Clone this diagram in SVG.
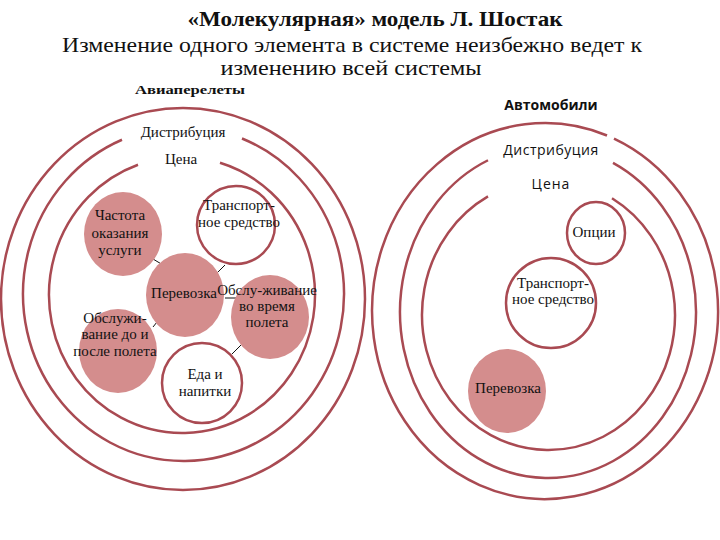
<svg xmlns="http://www.w3.org/2000/svg" width="720" height="540" viewBox="0 0 720 540">
<style>
.ring{fill:none;stroke:#a94a52;stroke-width:2.5}
.nodeO{fill:#ffffff;stroke:#a94a52;stroke-width:2.5}
.nodeF{fill:#d48d8d;stroke:none}
.conn{stroke:#111;stroke-width:1;fill:none}
.t{font-family:"Liberation Serif","Times New Roman",serif;font-size:15px;fill:#111;text-anchor:middle}
.s{font-family:"Open Sans","DejaVu Sans",sans-serif;font-size:14px;fill:#111;text-anchor:middle}
.h{font-family:"Liberation Serif","Times New Roman",serif;fill:#111;text-anchor:middle}
</style>
<rect width="720" height="540" fill="#fff"/>
<g id="title">
<text class="h" x="375" y="26" font-size="21" font-weight="bold" textLength="375" lengthAdjust="spacingAndGlyphs">«Молекулярная» модель Л. Шостак</text>
<text class="h" x="352" y="52" font-size="22" textLength="580" lengthAdjust="spacingAndGlyphs">Изменение одного элемента в системе неизбежно ведет к</text>
<text class="h" x="351" y="75" font-size="22" textLength="261" lengthAdjust="spacingAndGlyphs">изменению всей системы</text>
</g>
<g id="air-system">
<text class="h" x="190" y="94" font-size="13" font-weight="bold" textLength="110" lengthAdjust="spacingAndGlyphs">Авиаперелеты</text>
<ellipse class="ring" cx="183" cy="299" rx="182" ry="191"/>
<path class="ring" d="M122,139.75 A160.5,167 0 1 0 242,138.49"/>
<path class="ring" d="M138,164.77 A133,138 0 1 0 220,162.76"/>
<text class="t" x="183" y="137">Дистрибуция</text>
<text class="t" x="181" y="164">Цена</text>
</g>
<g id="connectors">
<line class="conn" x1="153" y1="259" x2="163" y2="265"/>
<line class="conn" x1="225" y1="265" x2="213" y2="277"/>
<line class="conn" x1="225" y1="298" x2="243" y2="298"/>
<line class="conn" x1="157" y1="322" x2="153" y2="327"/>
<line class="conn" x1="241" y1="345" x2="232" y2="354"/>
</g>
<g id="node-frequency">
<ellipse class="nodeF" cx="123" cy="234" rx="39" ry="42"/>
<text class="t" x="120" y="220">Частота</text>
<text class="t" x="120" y="238">оказания</text>
<text class="t" x="120" y="255">услуги</text>
</g>
<g id="node-vehicle-air">
<circle class="nodeO" cx="236" cy="225" r="39"/>
<text class="t" x="239" y="210">Транспорт-</text>
<text class="t" x="239" y="227">ное средство</text>
</g>
<g id="node-transport-air">
<ellipse class="nodeF" cx="185" cy="295" rx="39" ry="42"/>
<text class="t" x="184" y="298">Перевозка</text>
</g>
<g id="node-inflight">
<ellipse class="nodeF" cx="270" cy="317" rx="39" ry="42"/>
<text class="t" x="267" y="295">Обслу-живание</text>
<text class="t" x="267" y="311">во время</text>
<text class="t" x="267" y="327">полета</text>
</g>
<g id="node-ground">
<ellipse class="nodeF" cx="118" cy="351" rx="39" ry="42"/>
<text class="t" x="115" y="323">Обслужи-</text>
<text class="t" x="115" y="339">вание до и</text>
<text class="t" x="115" y="356">после полета</text>
</g>
<g id="node-food">
<circle class="nodeO" cx="202" cy="383" r="40"/>
<text class="t" x="205" y="379">Еда и</text>
<text class="t" x="205" y="396">напитки</text>
</g>
<g id="car-system">
<text class="s" x="551" y="110" font-weight="bold">Автомобили</text>
<path class="ring" d="M607,135.49 A173,188 0 1 0 614,138.6"/>
<path class="ring" d="M488,160.25 A148,166 0 1 0 613,162.87"/>
<path class="ring" d="M488,196.44 A126.5,135 0 1 0 612,198.24"/>
<text class="s" x="551" y="155" letter-spacing="0.5">Дистрибуция</text>
<text class="s" x="551" y="189" letter-spacing="1">Цена</text>
</g>
<g id="node-options">
<ellipse class="nodeO" cx="596" cy="233" rx="29" ry="31"/>
<text class="t" x="594" y="237">Опции</text>
</g>
<g id="node-vehicle-car">
<circle class="nodeO" cx="551" cy="303" r="45"/>
<text class="t" x="553" y="288">Транспорт-</text>
<text class="t" x="553" y="304">ное средство</text>
</g>
<g id="node-transport-car">
<ellipse class="nodeF" cx="507" cy="391" rx="39" ry="42"/>
<text class="t" x="508" y="393">Перевозка</text>
</g>
</svg>
